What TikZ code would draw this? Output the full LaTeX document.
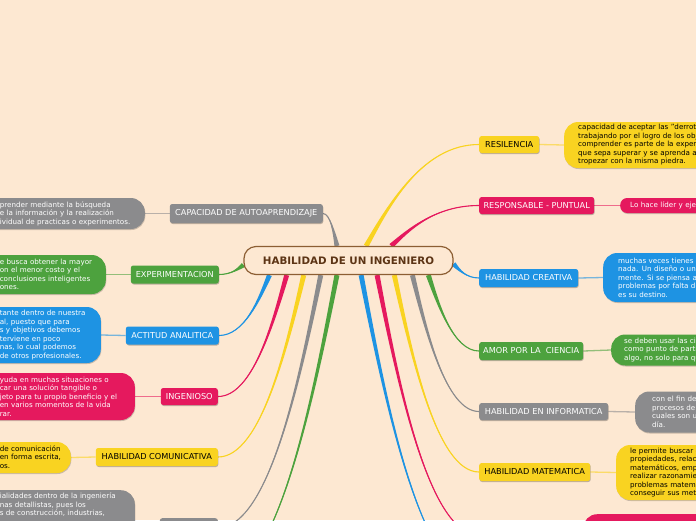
\documentclass[tikz,border=0pt]{standalone}
\usepackage{fontspec}
\setmainfont{DejaVu Sans}
\usetikzlibrary{calc,shadows}
\definecolor{bgc}{HTML}{FDE8D2}
\definecolor{cgray}{HTML}{8B8B8D}
\definecolor{cgreen}{HTML}{4DA23E}
\definecolor{cblue}{HTML}{1E93E3}
\definecolor{cpink}{HTML}{E5195E}
\definecolor{cyel}{HTML}{F9D321}
\definecolor{hubline}{HTML}{8C5E33}
\definecolor{hubtext}{HTML}{5C3415}
\pgfdeclarelayer{back}
\pgfsetlayers{back,main}
\newcommand{\cutl}[1]{\hspace*{40pt}\llap{#1}}
\newcommand{\branch}[3]{%
  \path let \p1=(#2), \p2=(#3) in
    coordinate (bA) at ({\x1+0.2*(\x2-\x1)},{\y1+0.4*(\y2-\y1)})
    coordinate (bB) at ({\x2-0.5*(\x2-\x1)},\y2);
  \fill[#1] ($(#2)!2.5pt!90:(bA)$) .. controls ($(bA)!1.1pt!-90:(#2)$) and (bB) .. (#3)
     .. controls (bB) and ($(bA)!1.1pt!90:(#2)$) .. ($(#2)!2.5pt!-90:(bA)$) -- cycle;
  \draw[#1, line width=1.1pt] (#2) .. controls (bA) and (bB) .. (#3);
}
\tikzset{
  hubst/.style={draw=hubline, line width=1.2pt, fill=bgc, rounded corners=12pt,
    minimum width=209pt, minimum height=28pt, inner sep=0pt, text=hubtext,
    font=\bfseries\fontsize{10.3}{12}\selectfont},
  lab/.style={rounded corners=2.5pt, inner sep=0pt, minimum height=18pt, text=white,
    font=\fontsize{8.2}{10}\selectfont,
    drop shadow={shadow xshift=0.5pt, shadow yshift=-1pt, opacity=0.25, fill=black}},
  bub/.style={rounded corners=14pt, inner xsep=8pt, inner ysep=0pt, align=left, text=white,
    font=\fontsize{7.15}{8.5}\selectfont,
    drop shadow={shadow xshift=0.5pt, shadow yshift=-1pt, opacity=0.2, fill=black}},
  link/.style={line width=1.3pt, draw=#1!60!bgc}
}
\begin{document}
\begin{tikzpicture}[x=1pt,y=-1pt]
\useasboundingbox (0,0) rectangle (696,520);
\begin{scope}
\clip (0,0) rectangle (696,520);
% hub
\node[hubst] (hub) at (348.5,260.5) {HABILIDAD DE UN INGENIERO};
% left labels
\node[lab, fill=cgray, minimum width=153pt, minimum height=19pt, anchor=east] (capa) at (323,213.5) {CAPACIDAD DE AUTOAPRENDIZAJE};
\node[lab, fill=cgreen, minimum width=88pt, anchor=east] (expe) at (219,274.5) {EXPERIMENTACION};
\node[lab, fill=cblue, minimum width=93pt, anchor=east] (acti) at (219,335.5) {ACTITUD ANALITICA};
\node[lab, fill=cpink, minimum width=57pt, minimum height=17pt, anchor=east] (inge) at (218,396.5) {INGENIOSO};
\node[lab, fill=cyel, text=black, minimum width=122pt, anchor=east] (comu) at (218,457) {HABILIDAD COMUNICATIVA};
\node[lab, fill=cgray, minimum width=58pt, minimum height=19pt, anchor=north east] (gbox) at (218,518) {};
% right labels
\node[lab, fill=cyel, text=black, minimum width=60pt, minimum height=17pt, anchor=west] (resi) at (479,144.5) {RESILENCIA};
\node[lab, fill=cpink, minimum width=115pt, minimum height=17pt, anchor=west] (resp) at (479,205.5) {RESPONSABLE - PUNTUAL};
\node[lab, fill=cblue, minimum width=99pt, anchor=west] (crea) at (479,278) {HABILIDAD CREATIVA};
\node[lab, fill=cgreen, minimum width=104pt, anchor=west] (amor) at (479,351) {AMOR POR LA\ \ CIENCIA};
\node[lab, fill=cgray, minimum width=129pt, minimum height=17pt, anchor=west] (info) at (479,411.5) {HABILIDAD EN INFORMATICA};
\node[lab, fill=cyel, text=black, minimum width=111pt, anchor=west] (mate) at (479,472) {HABILIDAD MATEMATICA};
% left bubbles
\node[bub, fill=cgray, anchor=east, text width=177pt, minimum height=31pt] (d1) at (145,213.5)
  {\cutl{Capacidad de a}prender mediante la búsqueda\\\cutl{d}e la información y la realización\\\cutl{ind}ividual de practicas o experimentos.};
\node[bub, fill=cgreen, anchor=east, text width=138pt, minimum height=39pt] (d2) at (106,274.5)
  {\cutl{S}e busca obtener la mayor\\\cutl{c}on el menor costo y el\\\cutl{de }conclusiones inteligentes\\\cutl{raz}ones.};
\node[bub, fill=cblue, anchor=east, text width=133pt, minimum height=56pt] (d3) at (101,335)
  {\cutl{Es impor}tante dentro de nuestra\\\cutl{formación profesion}al, puesto que para\\\cutl{lograr meta}s y objetivos debemos\\\cutl{in}terviene en poco\\\cutl{perso}nas, lo cual podemos\\\cutl{ayuda }de otros profesionales.};
\node[bub, fill=cpink, anchor=east, text width=167pt, minimum height=47pt] (d4) at (135,396.5)
  {\cutl{Te a}yuda en muchas situaciones o\\\cutl{apli}car una solución tangible o\\\cutl{ob}jeto para tu propio beneficio y el\\\cutl{de los demás, }en varios momentos de la vida\\\cutl{labo}rar.};
\node[bub, fill=cyel, text=black, anchor=east, text width=103pt, minimum height=31pt] (d5) at (71,457.5)
  {\cutl{Capacidad }de comunicación\\\cutl{tanto }en forma escrita,\\\cutl{gráfic}os.};
\node[bub, fill=cgray, anchor=north east, inner ysep=3pt, text width=167pt] (d6) at (135,490)
  {\cutl{espec}ialidades dentro de la ingeniería\\\cutl{perso}nas detallistas, pues los\\\cutl{proyecto}s de construcción, industrias,\\[12pt]\mbox{}};
% right bubbles
\node[bub, fill=cyel, text=black, anchor=west, inner xsep=14pt, text width=220pt, minimum height=46pt] (r1) at (564,145)
  {capacidad de aceptar las "derrotas" y seguir\\trabajando por el logro de los objetivos,\\comprender es parte de la experiencia\\que sepa superar y se aprenda a no\\tropezar con la misma piedra.};
\node[bub, fill=cpink, anchor=west, inner xsep=10pt, text width=200pt, minimum height=15pt, rounded corners=7pt] (r2) at (620,205.5)
  {Lo hace líder y ejemplo a seguir};
\node[bub, fill=cblue, anchor=west, inner xsep=15pt, text width=220pt, minimum height=49pt] (r3) at (603,277.5)
  {muchas veces tienes conocimiento pero\\nada. Un diseño o un proyecto nace en la\\mente. Si se piensa así\\problemas por falta de creatividad\\es su destino.};
\node[bub, fill=cgreen, anchor=west, inner xsep=13pt, text width=220pt, minimum height=31pt] (r4) at (611,350)
  {se deben usar las ciencias\\como punto de partida para\\algo, no solo para que};
\node[bub, fill=cgray, anchor=west, inner xsep=17pt, text width=220pt, minimum height=41pt] (r5) at (635,412)
  {con el fin de\\procesos de\\cuales son usados\\día.};
\node[bub, fill=cyel, text=black, anchor=west, inner xsep=14pt, text width=220pt, minimum height=55pt] (r6) at (616,472.5)
  {le permite buscar conexiones\\propiedades, relaciones\\matemáticos, empleando\\realizar razonamientos\\problemas matemáticos\\conseguir sus metas};
\node[bub, fill=cpink, anchor=north west, minimum width=200pt, minimum height=40pt] (r7) at (583,514) {};
\end{scope}
\begin{pgfonlayer}{back}
\begin{scope}
\clip (0,0) rectangle (696,520);
\fill[bgc] (0,0) rectangle (696,520);
\coordinate (tGray) at ($(hub.north west)!0.445!(hub.north east)$);
\coordinate (tYel) at ($(hub.north west)!0.584!(hub.north east)$);
\coordinate (tPink) at ($(hub.north west)!0.703!(hub.north east)$);
\coordinate (lGreen) at ($(hub.west)+(0,4.5)$);
\coordinate (rBlue) at ($(hub.east)+(0,3.5)$);
\coordinate (bBlue) at ($(hub.south west)!0.124!(hub.south east)$);
\coordinate (bPink) at ($(hub.south west)!0.206!(hub.south east)$);
\coordinate (bYel) at ($(hub.south west)!0.287!(hub.south east)$);
\coordinate (bGray) at ($(hub.south west)!0.368!(hub.south east)$);
\coordinate (bGreen) at ($(hub.south west)!0.445!(hub.south east)$);
\coordinate (cBlue) at ($(hub.south west)!0.560!(hub.south east)$);
\coordinate (cPink) at ($(hub.south west)!0.636!(hub.south east)$);
\coordinate (cYel) at ($(hub.south west)!0.718!(hub.south east)$);
\coordinate (cGray) at ($(hub.south west)!0.804!(hub.south east)$);
\coordinate (cGreen) at ($(hub.south west)!0.880!(hub.south east)$);
\coordinate (offGreen) at (218,580);
\coordinate (offBlue) at (479,580);
\coordinate (offPink) at (479,535);
\branch{cgray}{tGray}{capa.east}
\branch{cyel}{tYel}{resi.west}
\branch{cpink}{tPink}{resp.west}
\branch{cgreen}{lGreen}{expe.east}
\branch{cblue}{rBlue}{crea.west}
\branch{cblue}{bBlue}{acti.east}
\branch{cpink}{bPink}{inge.east}
\branch{cyel}{bYel}{comu.east}
\branch{cgray}{bGray}{gbox.east}
\branch{cgreen}{bGreen}{offGreen}
\branch{cblue}{cBlue}{offBlue}
\branch{cpink}{cPink}{offPink}
\branch{cyel}{cYel}{mate.west}
\branch{cgray}{cGray}{info.west}
\branch{cgreen}{cGreen}{amor.west}
\draw[link=cgray] (capa.west) -- (d1.east);
\draw[link=cgreen] (expe.west) -- (d2.east);
\draw[link=cblue] (acti.west) -- (d3.east);
\draw[link=cpink] (inge.west) -- (d4.east);
\draw[link=cyel] (comu.west) -- (d5.east);
\draw[link=cgray] (gbox.west) -- (gbox.west -| d6.east);
\draw[link=cyel] (resi.east) -- (r1.west);
\draw[link=cpink] (resp.east) -- (r2.west);
\draw[link=cblue] (crea.east) -- (r3.west);
\draw[link=cgreen] (amor.east) -- (r4.west);
\draw[link=cgray] (info.east) -- (r5.west);
\draw[link=cyel] (mate.east) -- (r6.west);
\end{scope}
\end{pgfonlayer}
\end{tikzpicture}
\end{document}
